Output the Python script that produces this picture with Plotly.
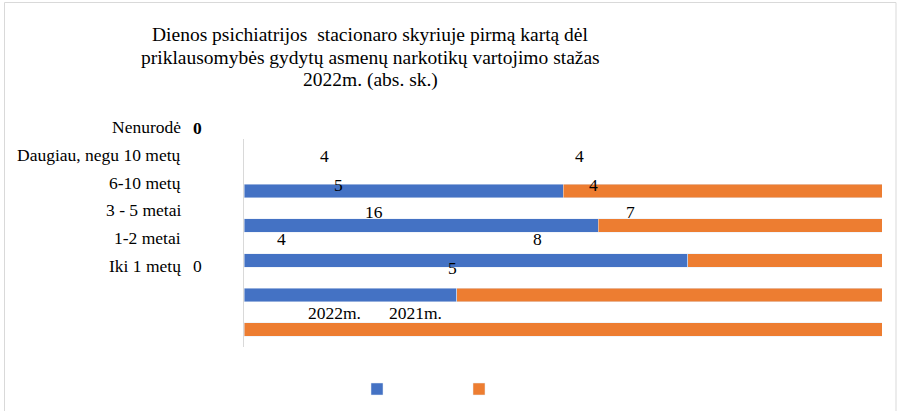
import plotly.graph_objects as go

# ---- data ----
categories = ["Nenurodė", "Daugiau, negu 10 metų", "6-10 metų", "3 - 5 metai", "1-2 metai", "Iki 1 metų"]
series_names = ["2022m.", "2021m."]
values_2022 = [0, 4, 5, 16, 4, 0]
values_2021 = [0, 4, 4, 7, 8, 5]
title_lines = ["Dienos psichiatrijos  stacionaro skyriuje pirmą kartą dėl",
               "priklausomybės gydytų asmenų narkotikų vartojimo stažas",
               "2022m. (abs. sk.)"]

# ---- layout geometry (pixels) ----
W, H = 897, 411
L, R, T, B = 244, 15, 139, 64
FONT = "Liberation Serif, Times New Roman, serif"
BLUE, ORANGE = "#4472C4", "#ED7D31"


def px(x):
    return (x - L) / (W - L - R)


def py(y):
    return 1 - (y - T) / (H - T - B)


fig = go.Figure()
fig.add_trace(go.Bar(y=categories, x=values_2022, orientation="h", marker_color=BLUE,
                     name="", meta=series_names[0],
                     hovertemplate="%{meta}: %{x}<extra>%{y}</extra>"))
fig.add_trace(go.Bar(y=categories, x=values_2021, orientation="h", marker_color=ORANGE,
                     name="", meta=series_names[1],
                     hovertemplate="%{meta}: %{x}<extra>%{y}</extra>"))

annotations = []
# title lines
for line, yy in zip(title_lines, [34, 57, 80]):
    annotations.append(dict(x=px(370), y=py(yy), xref="paper", yref="paper", text=line,
                            showarrow=False, xanchor="center", yanchor="middle",
                            font=dict(family=FONT, size=19.5, color="#000")))

# category labels (displaced as in the reference)
cat_label_y = [127, 155, 183, 210, 238, 266]
for c, yy in zip(categories, cat_label_y):
    annotations.append(dict(x=px(183), y=py(yy), xref="paper", yref="paper", text=c,
                            showarrow=False, xanchor="right", yanchor="middle",
                            font=dict(family=FONT, size=17.5, color="#000")))

# data labels (displaced as in the reference)
pos_2022 = [(197, 128), (324, 156), (338.5, 185), (374, 212), (281, 239), (197, 266)]
pos_2021 = [None, (579.5, 156), (593, 185), (630, 212), (537, 239), (452, 267.5)]
for i, (v, p) in enumerate(zip(values_2022, pos_2022)):
    txt = f"<b>{v}</b>" if i == 0 else str(v)
    annotations.append(dict(x=px(p[0]), y=py(p[1]), xref="paper", yref="paper", text=txt,
                            showarrow=False, xanchor="center", yanchor="middle",
                            font=dict(family=FONT, size=17.5, color="#000")))
for v, p in zip(values_2021, pos_2021):
    if p is None:
        continue
    annotations.append(dict(x=px(p[0]), y=py(p[1]), xref="paper", yref="paper", text=str(v),
                            showarrow=False, xanchor="center", yanchor="middle",
                            font=dict(family=FONT, size=17.5, color="#000")))

# displaced legend texts
for name, xx in zip(series_names, [334, 415]):
    annotations.append(dict(x=px(xx), y=py(312.7), xref="paper", yref="paper", text=name,
                            showarrow=False, xanchor="center", yanchor="middle",
                            font=dict(family=FONT, size=17.5, color="#000")))

fig.update_layout(
    width=W, height=H,
    margin=dict(l=L, r=R, t=T, b=B, autoexpand=False),
    paper_bgcolor="white", plot_bgcolor="white",
    barmode="stack", barnorm="percent", bargap=0.613,
    xaxis=dict(range=[0, 100], visible=False, fixedrange=True),
    yaxis=dict(categoryorder="array", categoryarray=categories, autorange="reversed",
               showticklabels=False, ticks="", showgrid=False, zeroline=False,
               showline=True, linecolor="#d9d9d9", linewidth=1, fixedrange=True),
    showlegend=True,
    legend=dict(orientation="h", x=px(357), xanchor="left", y=py(389), yanchor="middle",
                entrywidth=57, entrywidthmode="pixels", traceorder="normal",
                font=dict(family=FONT, size=12)),
    annotations=annotations,
    shapes=[dict(type="rect", xref="paper", yref="paper",
                 x0=px(4.5), x1=px(896), y0=py(460), y1=py(2.5),
                 line=dict(color="#d9d9d9", width=1), fillcolor="rgba(0,0,0,0)", layer="below")],
)

fig.write_html("out.html", post_script="document.body.style.margin='0';",
               config={"displayModeBar": False})
